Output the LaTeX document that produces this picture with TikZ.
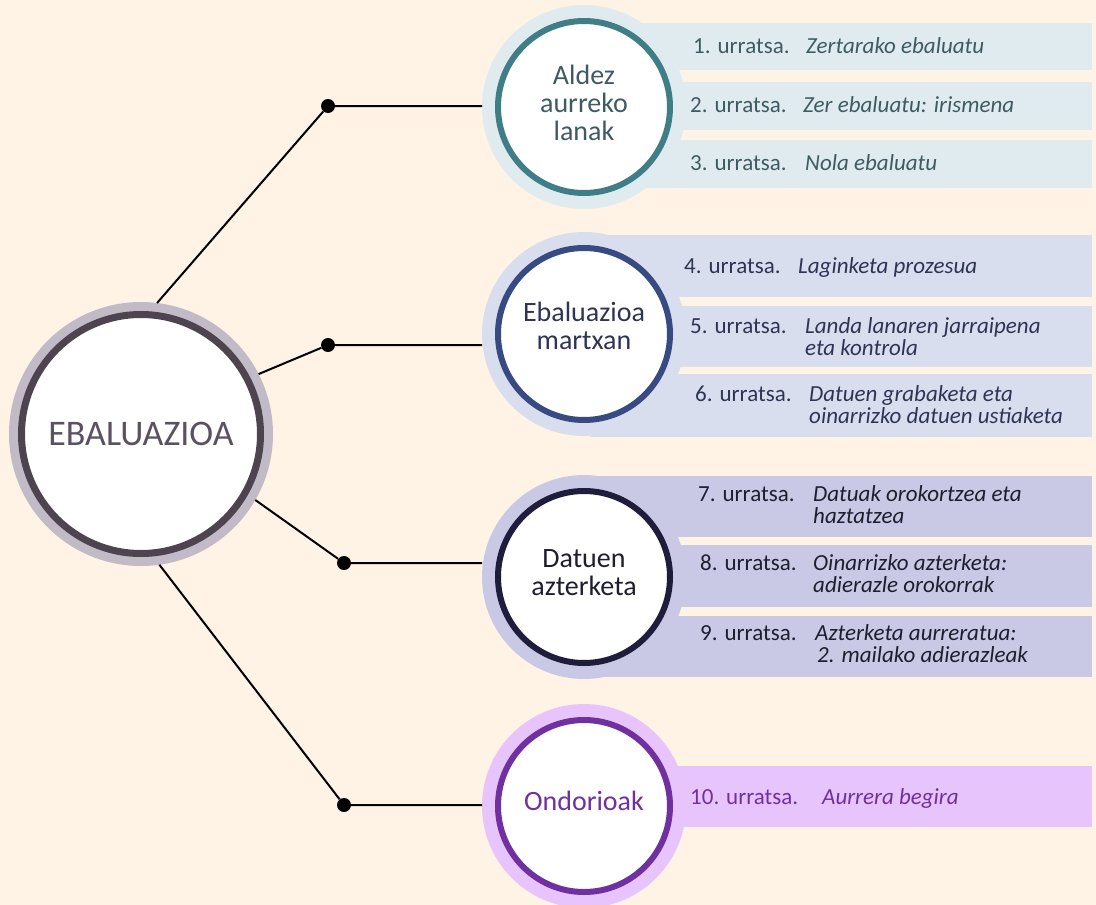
\documentclass[tikz,border=0pt]{standalone}
\usepackage{fontspec}
\setmainfont{Carlito}
\usetikzlibrary{calc}

\definecolor{paper}{HTML}{FFF3E5}
\definecolor{mainhalo}{HTML}{C3BAC8}
\definecolor{mainring}{HTML}{4D4450}
\definecolor{maintext}{HTML}{5B5160}
% one colour triple for each group: light, ring, text
\definecolor{aLight}{HTML}{DFEBEF}\definecolor{aRing}{HTML}{407E87}\definecolor{aText}{HTML}{3F5B62}
\definecolor{bLight}{HTML}{D9DEEF}\definecolor{bRing}{HTML}{374A82}\definecolor{bText}{HTML}{2E3554}
\definecolor{cLight}{HTML}{C9C9E5}\definecolor{cRing}{HTML}{1E1E3C}\definecolor{cText}{HTML}{1E1E2E}
\definecolor{dLight}{HTML}{E7C5FC}\definecolor{dRing}{HTML}{7030A0}\definecolor{dText}{HTML}{7030A0}

\tikzset{
  halo/.style={circle, fill=#1Light, minimum size=204pt, inner sep=0pt, outer sep=0pt},
  ring/.style={circle, draw=#1Ring, fill=white, line width=6pt, minimum size=172pt, inner sep=0pt},
  stage/.style={text=#1Text, align=center, inner sep=0pt, font=\fontsize{28}{28}\selectfont},
  stepno/.style={anchor=base west, inner sep=0pt, font=\fontsize{23}{22}\selectfont},
  stepname/.style={anchor=base west, inner sep=0pt, align=left, font=\fontsize{23}{22}\selectfont\itshape},
  joint/.style={circle, fill=black, minimum size=14pt, inner sep=0pt},
  link/.style={line width=2pt}
}

\begin{document}
\begin{tikzpicture}[x=1pt, y=-1pt]
\fill[paper] (0,0) rectangle (1096,905);
\useasboundingbox (0,0) rectangle (1096,905);

% steps: group/top/bottom/x of number/baseline/x of name/last baseline/number/name
\foreach \g/\top/\bot/\nx/\ny/\tx/\ty/\n/\txt in {
  a/23/70/693/53/806/53/1/{Zertarako ebaluatu},
  a/82/130/690/112/803/112/2/{Zer ebaluatu: irismena},
  a/140/188/690/170/805/170/3/{Nola ebaluatu},
  b/235/297/684/273/798/273/4/{Laginketa prozesua},
  b/306/367/690/333/805/355/5/{Landa lanaren jarraipena\\eta kontrola},
  b/374/437/695/401/809/423/6/{Datuen grabaketa eta\\oinarrizko datuen ustiaketa},
  c/476/537/698/501/813/523/7/{Datuak orokortzea eta\\haztatzea},
  c/545/607/700/570/813/592/8/{Oinarrizko azterketa:\\adierazle orokorrak},
  c/616/677/700/640/815/662/9/{Azterketa aurreratua:\\\hspace{2pt}2. mailako adierazleak},
  d/766/827/690/804/822/804/10/{Aurrera begira}}{
  \fill[\g Light] (590,\top) rectangle (1092,\bot);
  \node[stepno, text=\g Text] (no\n) at (\nx,\ny) {\n. urratsa.};
  \node[stepname, text=\g Text] (name\n) at (\tx,\ty) {\txt};
}

\node[halo=a] (h1) at (584,107) {};
\node[halo=b] (h2) at (584,334) {};
\node[halo=c] (h3) at (584,577) {};
\node[halo=d] (h4) at (584,806) {};
\node[ring=a] (r1) at (h1) {};
\node[ring=b] (r2) at (h2) {};
\node[ring=c] (r3) at (h3) {};
\node[ring=d] (r4) at (h4) {};
\node[stage=a] (aldez) at ([yshift=4pt]r1) {Aldez\\aurreko\\lanak};
\node[stage=b] (martxan) at ([yshift=8pt]r2) {Ebaluazioa\\martxan};
\node[stage=c] (azterketa) at ([yshift=4pt]r3) {Datuen\\azterketa};
\node[stage=d] (ondorio) at ([yshift=5pt]r4) {Ondorioak};

\node[circle, fill=mainhalo, minimum size=264pt, inner sep=0pt, outer sep=0pt] (ebal) at (141,434) {};
\node[circle, draw=mainring, fill=white, line width=7pt, minimum size=239pt,
  text=maintext, font=\fontsize{36}{40}\selectfont] (ebalring) at (ebal) {EBALUAZIOA};

\node[joint] (d1) at (328,106) {};
\node[joint] (d2) at (328,345) {};
\node[joint] (d3) at (344,563) {};
\node[joint] (d4) at (344,805) {};

\draw[link] (ebal.83) -- (d1) -- (d1 -| h1.west);
\draw[link] (ebal.27) -- (d2) -- (d2 -| h2.west);
\draw[link] (ebal.-30) -- (d3) -- (d3 -| h3.west);
\draw[link] (ebal.-82) -- (d4) -- (d4 -| h4.west);
\end{tikzpicture}
\end{document}
